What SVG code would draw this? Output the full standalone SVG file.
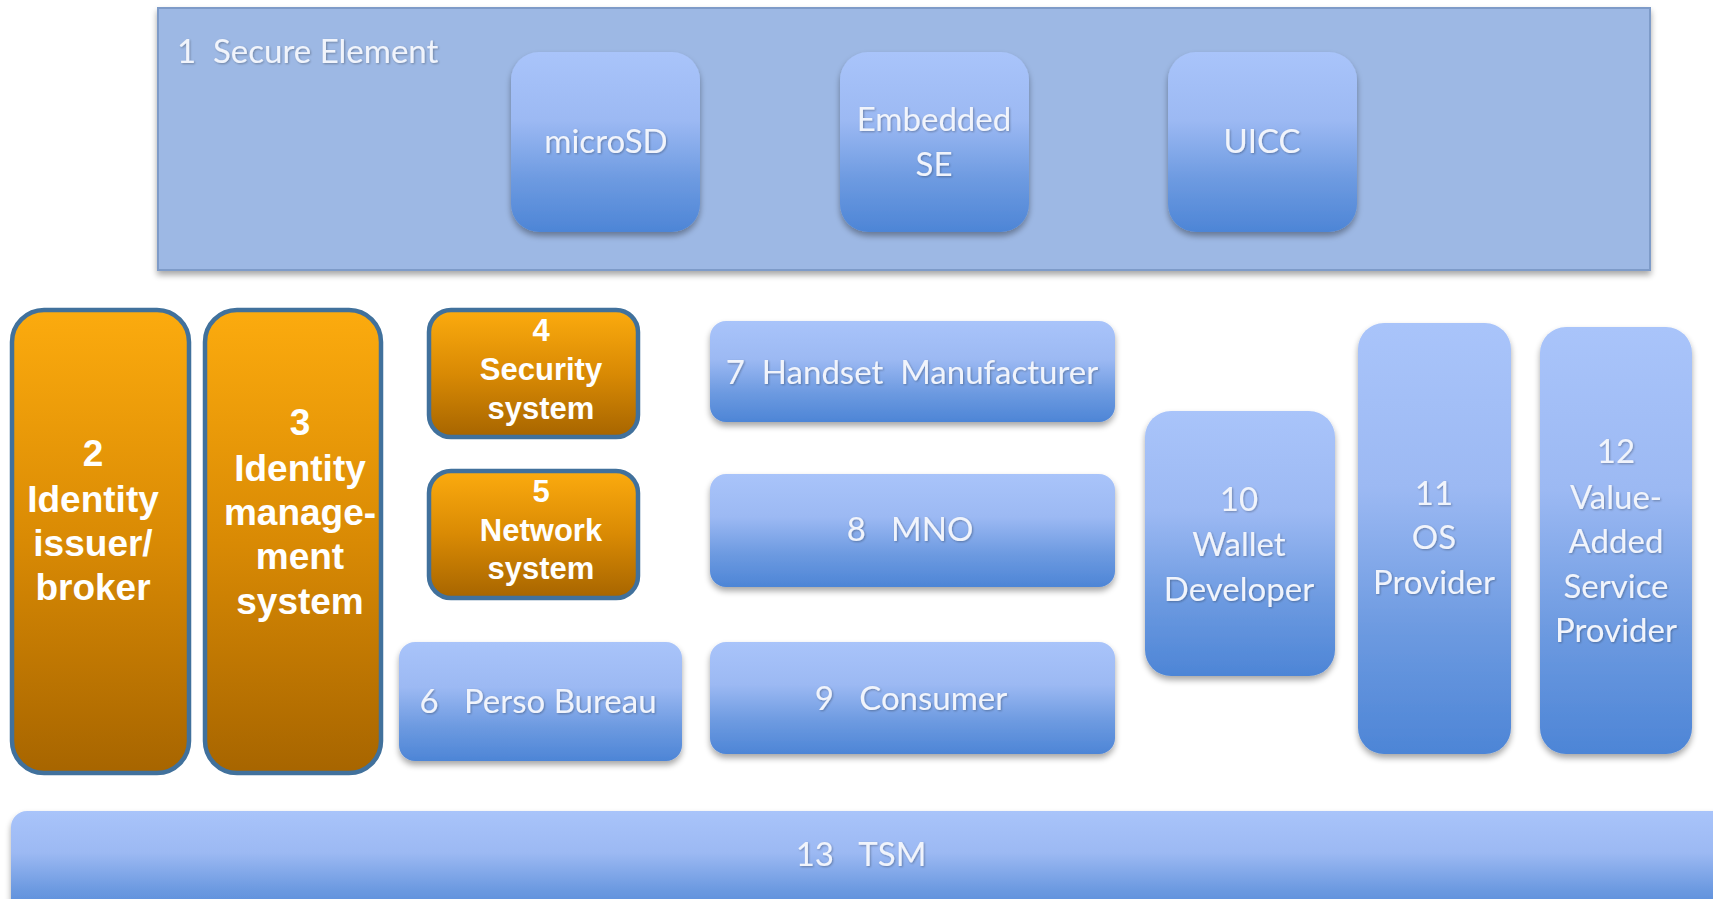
<svg xmlns="http://www.w3.org/2000/svg" width="1713" height="899" viewBox="0 0 1713 899">
<defs>
<linearGradient id="gBlue" x1="0" y1="0" x2="0" y2="1">
<stop offset="0" stop-color="#A9C4FA"/>
<stop offset="0.38" stop-color="#9CB9F3"/>
<stop offset="0.7" stop-color="#6E9BE1"/>
<stop offset="1" stop-color="#4D85D6"/>
</linearGradient>
<linearGradient id="gOrange" x1="0" y1="0" x2="0" y2="1">
<stop offset="0" stop-color="#FCAB0E"/>
<stop offset="0.5" stop-color="#D98A04"/>
<stop offset="1" stop-color="#A76500"/>
</linearGradient>
<filter id="sh" x="-10%" y="-10%" width="120%" height="130%">
<feGaussianBlur in="SourceAlpha" stdDeviation="3"/>
<feOffset dx="0" dy="4" result="b"/>
<feComponentTransfer><feFuncA type="linear" slope="0.35"/></feComponentTransfer>
<feMerge><feMergeNode/><feMergeNode in="SourceGraphic"/></feMerge>
</filter>
<filter id="tsh" x="-10%" y="-20%" width="120%" height="140%">
<feGaussianBlur in="SourceAlpha" stdDeviation="1"/>
<feOffset dx="1" dy="1"/>
<feComponentTransfer><feFuncA type="linear" slope="0.3"/></feComponentTransfer>
<feMerge><feMergeNode/><feMergeNode in="SourceGraphic"/></feMerge>
</filter>
</defs>
<style>
.blue{fill:url(#gBlue);filter:url(#sh)}
.org{fill:url(#gOrange);stroke:#41719C;stroke-width:4.5}
.bt{font-family:Lato,"Open Sans",sans-serif;font-size:33px;fill:#F1F4FB;text-anchor:middle;white-space:pre;filter:url(#tsh)}
.ot{font-family:"Liberation Sans",Arial,sans-serif;font-weight:bold;font-size:37px;fill:#FFFFFF;text-anchor:middle}
.os{font-family:"Liberation Sans",Arial,sans-serif;font-weight:bold;font-size:31px;fill:#FFFFFF;text-anchor:middle}
</style>
<rect width="1713" height="899" fill="#FFFFFF"/>

<g id="n1">
<rect x="158" y="8" width="1492" height="262" fill="#9DB8E4" stroke="#7E9BC8" stroke-width="2" filter="url(#sh)"/>
<text class="bt" x="177" y="63" style="text-anchor:start">1  Secure Element</text>
</g>
<g id="microSD">
<rect class="blue" x="511" y="52" width="189" height="180" rx="28"/>
<text class="bt" x="606" y="153">microSD</text>
</g>
<g id="embeddedSE">
<rect class="blue" x="840" y="52" width="189" height="180" rx="28"/>
<text class="bt" x="934" y="131">Embedded</text>
<text class="bt" x="934" y="176">SE</text>
</g>
<g id="uicc">
<rect class="blue" x="1168" y="52" width="189" height="180" rx="28"/>
<text class="bt" x="1262" y="153">UICC</text>
</g>

<g id="n2">
<rect class="org" x="12" y="310" width="177" height="463" rx="32"/>
<text class="ot" x="93" y="466">2</text>
<text class="ot" x="93" y="512">Identity</text>
<text class="ot" x="93" y="556">issuer/</text>
<text class="ot" x="93" y="600">broker</text>
</g>
<g id="n3">
<rect class="org" x="205" y="310" width="176" height="463" rx="32"/>
<text class="ot" x="300" y="435">3</text>
<text class="ot" x="300" y="481">Identity</text>
<text class="ot" x="300" y="525">manage-</text>
<text class="ot" x="300" y="569">ment</text>
<text class="ot" x="300" y="614">system</text>
</g>
<g id="n4">
<rect class="org" x="429" y="310" width="209" height="127" rx="22"/>
<text class="os" x="541" y="341">4</text>
<text class="os" x="541" y="380">Security</text>
<text class="os" x="541" y="419">system</text>
</g>
<g id="n5">
<rect class="org" x="429" y="471" width="209" height="127" rx="22"/>
<text class="os" x="541" y="502">5</text>
<text class="os" x="541" y="541">Network</text>
<text class="os" x="541" y="579">system</text>
</g>
<g id="n6">
<rect class="blue" x="399" y="642" width="283" height="119" rx="16"/>
<text class="bt" x="538" y="713">6   Perso Bureau</text>
</g>
<g id="n7">
<rect class="blue" x="710" y="321" width="405" height="101" rx="16"/>
<text class="bt" x="912" y="384">7  Handset  Manufacturer</text>
</g>
<g id="n8">
<rect class="blue" x="710" y="474" width="405" height="113" rx="16"/>
<text class="bt" x="910" y="541">8   MNO</text>
</g>
<g id="n9">
<rect class="blue" x="710" y="642" width="405" height="112" rx="16"/>
<text class="bt" x="911" y="710">9   Consumer</text>
</g>
<g id="n10">
<rect class="blue" x="1145" y="411" width="190" height="265" rx="26"/>
<text class="bt" x="1239" y="511">10</text>
<text class="bt" x="1239" y="556">Wallet</text>
<text class="bt" x="1239" y="601">Developer</text>
</g>
<g id="n11">
<rect class="blue" x="1358" y="323" width="153" height="431" rx="26"/>
<text class="bt" x="1434" y="505">11</text>
<text class="bt" x="1434" y="549">OS</text>
<text class="bt" x="1434" y="594">Provider</text>
</g>
<g id="n12">
<rect class="blue" x="1540" y="327" width="152" height="427" rx="26"/>
<text class="bt" x="1616" y="463">12</text>
<text class="bt" x="1616" y="509">Value-</text>
<text class="bt" x="1616" y="553">Added</text>
<text class="bt" x="1616" y="598">Service</text>
<text class="bt" x="1616" y="642">Provider</text>
</g>
<g id="n13">
<rect class="blue" x="11" y="811" width="1720" height="110" rx="16"/>
<text class="bt" x="861" y="866">13   TSM</text>
</g>
<g id="connectors"></g>
</svg>
